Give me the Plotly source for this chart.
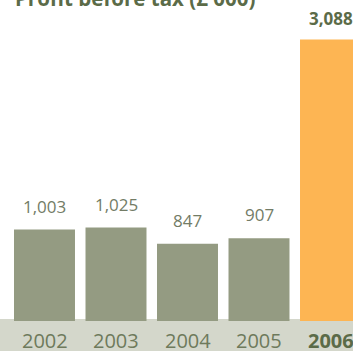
import plotly.graph_objects as go

years = ["2002", "2003", "2004", "2005", "2006"]
profit = [1003, 1025, 847, 907, 3088]
labels = ["1,003", "1,025", "847", "907", "3,088"]
title = "Profit before tax (£'000)"

bar_colors = ["#949b82"] * 4 + ["#fdb553"]
xs = list(range(len(years)))

fig = go.Figure()
fig.add_trace(go.Bar(x=xs, y=profit, marker=dict(color=bar_colors, line=dict(width=0)),
                     hoverinfo="skip"))

annotations = []
for i, (v, lab, yr) in enumerate(zip(profit, labels, years)):
    last = i == len(profit) - 1
    annotations.append(dict(
        x=i, y=v, xref="x", yref="y", text=("<b>%s</b>" % lab) if last else lab,
        showarrow=False, yanchor="bottom", xanchor="center",
        yshift=7 if last else 10,
        font=dict(family="Open Sans", size=17, color="#5b6b48" if last else "#737c66"),
    ))
    annotations.append(dict(
        x=i, y=0, xref="x", yref="paper", text=("<b>%s</b>" % yr) if last else yr,
        showarrow=False, yanchor="top", xanchor="center", yshift=-4,
        font=dict(family="Open Sans", size=20, color="#5b6b48" if last else "#6e7a5c"),
    ))
annotations.append(dict(
    x=13 / 353, y=1, xref="paper", yref="paper", text="<b>%s</b>" % title,
    showarrow=False, xanchor="left", yanchor="bottom", yshift=-14,
    font=dict(family="Open Sans", size=20.5, color="#5b6b48"),
))

fig.update_layout(
    width=353, height=351,
    margin=dict(l=0, r=0, t=0, b=30, autoexpand=False),
    paper_bgcolor="white", plot_bgcolor="white",
    showlegend=False, bargap=0.147,
    xaxis=dict(range=[-44.5 / 71.5, (353 - 44.5) / 71.5], showticklabels=False,
               showgrid=False, zeroline=False, showline=False, automargin=False),
    yaxis=dict(range=[0, 3520], visible=False, automargin=False),
    shapes=[dict(type="rect", xref="paper", yref="paper", x0=0, x1=1,
                 y0=-0.2, y1=2 / 321, fillcolor="#d4d7cb", line=dict(width=0), layer="below")],
    annotations=annotations,
)

fig.write_html("out.html")
